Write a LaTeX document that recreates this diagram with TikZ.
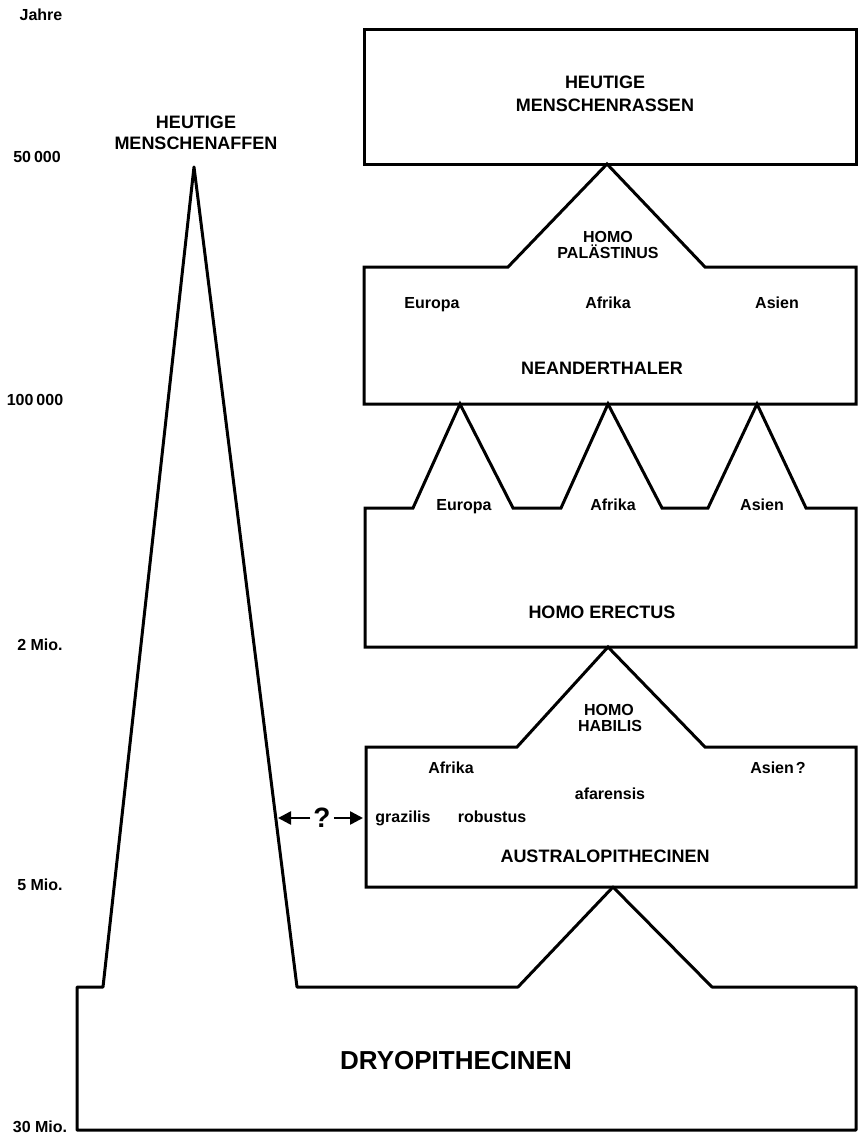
\documentclass[tikz,border=0pt]{standalone}
\usepackage{fontspec}
\setmainfont{Liberation Sans}
\usetikzlibrary{arrows.meta}
\begin{document}
\begin{tikzpicture}[x=1pt,y=-1pt,
  outline/.style={draw=black, line width=3pt, line join=miter},
  lab/.style={font=\fontsize{16}{18}\selectfont\bfseries, inner sep=0pt, text height=11.5pt, text depth=0pt},
  ttl/.style={font=\fontsize{18}{20}\selectfont\bfseries, inner sep=0pt, text height=13pt, text depth=0pt},
  huge/.style={font=\fontsize{26}{28}\selectfont\bfseries, inner sep=0pt, text height=18.7pt, text depth=0pt},
  qmark/.style={font=\fontsize{28}{30}\selectfont\bfseries, inner xsep=3pt, inner ysep=0pt, text height=20pt, text depth=0pt},
  arr/.style={draw=black, line width=2.5pt, -{Triangle[length=13pt,width=13pt]}}
]
\useasboundingbox (0,0) rectangle (860,1135);
\fill[white] (0,0) rectangle (860,1135);

% shapes
\draw[outline] (364,29) rectangle (856,164);
\draw[outline] (364,267) -- (508,267) -- (607,164) -- (705,267) -- (856,267) -- (856,404) -- (364,404) -- cycle;
\draw[outline] (365,508) -- (413,508) -- (460,404) -- (513,508) -- (561,508) -- (608,404) -- (662,508) -- (708,508) -- (757,404) -- (806,508) -- (856,508) -- (856,647) -- (365,647) -- cycle;
\draw[outline] (366,747) -- (517,747) -- (608,647) -- (705,747) -- (856,747) -- (856,887) -- (366,887) -- cycle;
\draw[outline, line join=round] (77,987) -- (103,987) -- (194,167) -- (297,987) -- (518,987) -- (613,887) -- (712,987) -- (856,987) -- (856,1130) -- (77,1130) -- cycle;

% axis labels
\node[lab] (jahre) at (41,15) {Jahre};
\node[lab] (t50k) at (37,157) {50\kern3pt000};
\node[lab] (t100k) at (35,400) {100\kern3pt000};
\node[lab] (t2m) at (40,645) {2 Mio.};
\node[lab] (t5m) at (40,885) {5 Mio.};
\node[lab] (t30m) at (40,1127) {30 Mio.};

% apes
\node[ttl] (ma1) at (196,122) {HEUTIGE};
\node[ttl] (ma2) at (196,143) {MENSCHENAFFEN};

% modern humans
\node[ttl] (mr1) at (605,82) {HEUTIGE};
\node[ttl] (mr2) at (605,105) {MENSCHENRASSEN};

% Homo palaestinus
\node[lab] (hp1) at (608,237) {HOMO};
\node[lab] (hp2) at (608,253) {PALÄSTINUS};

% Neanderthal
\node[lab] (ne1) at (432,303) {Europa};
\node[lab] (ne2) at (608,303) {Afrika};
\node[lab] (ne3) at (777,303) {Asien};
\node[ttl] (nea) at (602,368) {NEANDERTHALER};

% Homo erectus
\node[lab] (he1) at (464,505) {Europa};
\node[lab] (he2) at (613,505) {Afrika};
\node[lab] (he3) at (762,505) {Asien};
\node[ttl] (her) at (602,612) {HOMO ERECTUS};

% Homo habilis
\node[lab] (hh1) at (609,710) {HOMO};
\node[lab] (hh2) at (610,726) {HABILIS};

% Australopithecinen
\node[lab] (au1) at (451,768) {Afrika};
\node[lab] (au2) at (778,768) {Asien\kern2pt?};
\node[lab] (au3) at (610,794) {afarensis};
\node[lab] (au4) at (403,817) {grazilis};
\node[lab] (au5) at (492,817) {robustus};
\node[ttl] (aus) at (605,856) {AUSTRALOPITHECINEN};

% Dryopithecinen
\node[huge] (dry) at (456,1060) {DRYOPITHECINEN};

% question arrow
\coordinate (apeR) at (278,818);
\coordinate (ausL) at (363,818);
\node[qmark] (q) at (322,817) {?};
\draw[arr] (q.west |- apeR) -- (apeR);
\draw[arr] (q.east |- ausL) -- (ausL);
\end{tikzpicture}
\end{document}
